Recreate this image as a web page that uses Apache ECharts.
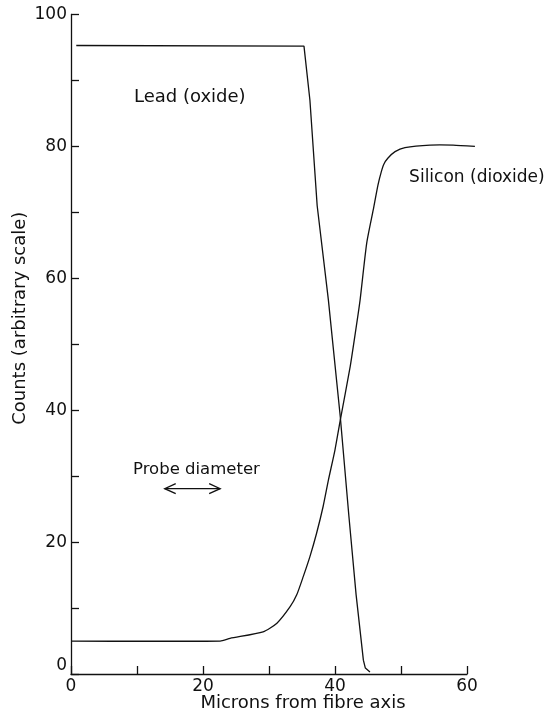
<!DOCTYPE html>
<html><head><meta charset="utf-8">
<script src="https://cdn.jsdelivr.net/npm/echarts@6/dist/echarts.min.js"></script>
<style>html,body{margin:0;padding:0;background:#fff}#c{width:546px;height:709px}</style>
</head><body><div id="c"></div><script>
// ---- data (microns, counts) ----
const leadData = [[0.8,95.3],[35.3,95.2],[36.2,87.0],[37.3,71.0],[39.0,56.7],[40.8,39.0],[42.1,24.0],[43.2,12.0],[44.3,2.1],[44.6,0.9],[45.3,0.3]];
const siliconData = [[0,5.0],[22.6,5.0],[24.1,5.4],[29.1,6.4],[31.2,7.7],[33.2,10.2],[34.2,12.0],[35.2,14.8],[36.2,17.8],[37.2,21.3],[38.2,25.4],[39.0,29.4],[40.0,34.0],[40.8,38.5],[42.3,46.6],[43.3,53.2],[43.8,56.7],[44.8,65.3],[45.8,70.4],[46.5,74.1],[47.0,76.1],[47.4,77.3],[48.0,78.2],[49.1,79.2],[50.6,79.8],[54.4,80.2],[57.9,80.2],[61.2,80.0]];
const xLabelValues = [0,20,40,60];
const yLabelValues = [0,20,40,60,80,100];
const annotationTexts = ['Lead (oxide)','Silicon (dioxide)','Probe diameter'];
const annotationAnchors = [[18.0,87.4],[61.5,75.2],[19.0,30.9]];
const probeArrow = [[14.2,28.1,22.6,28.1]];

const FONT = 'DejaVu Sans';
const INK = '#111';
const annotationSizes = [18,17,16.5];

const chart = echarts.init(document.getElementById('c'), null, {renderer:'canvas'});
chart.setOption({
  animation:false,
  backgroundColor:'#fff',
  grid:{left:71,right:79,top:14.5,bottom:35,containLabel:false,outerBoundsMode:'none'},
  xAxis:{
    type:'value',min:0,max:60,interval:10,
    axisLine:{lineStyle:{color:INK,width:1.3}},
    axisTick:{inside:true,length:8,lineStyle:{color:INK,width:1.3}},
    axisLabel:{fontFamily:FONT,fontSize:17,color:INK,margin:4,
      formatter:v=>xLabelValues.includes(v)?String(v):''},
    splitLine:{show:false},
    name:'Microns from fibre axis',nameLocation:'middle',nameGap:20.5,nameMoveOverlap:false,
    nameTextStyle:{fontFamily:FONT,fontSize:18,color:INK,padding:[0,0,0,68]}
  },
  yAxis:{
    type:'value',min:0,max:100,interval:10,
    axisLine:{lineStyle:{color:INK,width:1.3}},
    axisTick:{inside:true,length:8,lineStyle:{color:INK,width:1.3}},
    axisLabel:{fontFamily:FONT,fontSize:17,color:INK,margin:4,
      formatter:v=>yLabelValues.includes(v)?(v===0?'{z|0}':String(v)):'',
      rich:{z:{fontFamily:FONT,fontSize:17,color:INK,padding:[0,0,16,0]}}},
    splitLine:{show:false},
    name:'Counts (arbitrary scale)',nameLocation:'middle',nameGap:42,nameMoveOverlap:false,
    nameTextStyle:{fontFamily:FONT,fontSize:18,color:INK,padding:[0,0,0,52]}
  },
  series:[
    {type:'line',data:leadData,symbol:'none',smooth:false,clip:false,
      lineStyle:{color:INK,width:1.3}},
    {type:'custom',clip:false,data:[0],
      renderItem:(params,api)=>{
        const pts=siliconData.map(d=>api.coord(d));
        return {type:'polyline',shape:{points:pts,smooth:0.2},
          style:{stroke:INK,lineWidth:1.3,fill:null}};
      }},
    {type:'custom',clip:false,data:annotationAnchors,
      encode:{x:0,y:1},
      renderItem:(params,api)=>{
        const i=params.dataIndex;
        const p=api.coord([api.value(0),api.value(1)]);
        return {type:'text',x:p[0],y:p[1],style:{text:annotationTexts[i],
          fontFamily:FONT,fontSize:annotationSizes[i],fill:INK,align:'center',verticalAlign:'middle'}};
      }},
    {type:'custom',clip:false,data:probeArrow,
      encode:{x:[0,2],y:[1,3]},
      renderItem:(params,api)=>{
        const a=api.coord([api.value(0),api.value(1)]);
        const b=api.coord([api.value(2),api.value(3)]);
        const L=11,H=5;
        const st={stroke:INK,lineWidth:1.3,fill:null};
        return {type:'group',children:[
          {type:'polyline',shape:{points:[a,b]},style:st},
          {type:'polyline',shape:{points:[[a[0]+L,a[1]-H],a,[a[0]+L,a[1]+H]]},style:st},
          {type:'polyline',shape:{points:[[b[0]-L,b[1]-H],b,[b[0]-L,b[1]+H]]},style:st}
        ]};
      }}
  ]
});
</script></body></html>
